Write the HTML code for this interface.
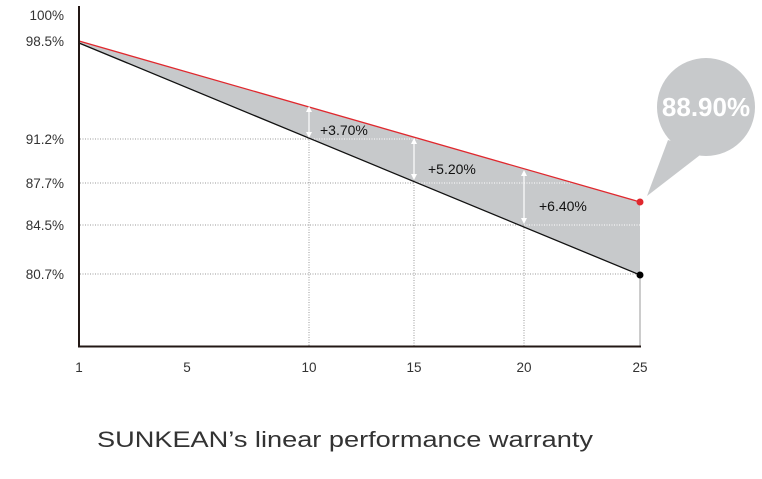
<!DOCTYPE html>
<html><head><meta charset="utf-8"><style>
body{margin:0;background:#fff;}
svg text{font-family:"Liberation Sans",sans-serif;}
</style></head><body>
<svg width="762" height="474" viewBox="0 0 762 474" xmlns="http://www.w3.org/2000/svg">
<polygon points="79,41 640,202 640,275 79,43" fill="#c7c9cb"/>
<g stroke="#999" stroke-width="1" stroke-dasharray="1,1.5" fill="none">
<line x1="80" y1="139" x2="309" y2="139"/>
<line x1="80" y1="183" x2="414" y2="183"/>
<line x1="80" y1="225" x2="524" y2="225"/>
<line x1="80" y1="274" x2="640" y2="274"/>
<line x1="309" y1="137" x2="309" y2="346"/>
<line x1="414" y1="180" x2="414" y2="346"/>
<line x1="524" y1="225" x2="524" y2="346"/>
</g>
<g stroke="#fff" stroke-width="1" stroke-dasharray="1,1.5">
<line x1="309" y1="139" x2="640" y2="139"/>
<line x1="414" y1="183" x2="640" y2="183"/>
<line x1="524" y1="225" x2="640" y2="225"/>
</g>
<line x1="640" y1="275" x2="640" y2="346" stroke="#999" stroke-width="1"/>
<line x1="79" y1="41" x2="640" y2="202" stroke="#e0282e" stroke-width="1.3"/>
<line x1="79" y1="43" x2="640" y2="275" stroke="#111" stroke-width="1.3"/>
<g stroke="#fff" stroke-width="1.2" fill="#fff">
<line x1="309" y1="109" x2="309" y2="135"/>
<polygon points="306,112 309,106 312,112" stroke="none"/>
<polygon points="306,132 309,138 312,132" stroke="none"/>
<line x1="414" y1="141" x2="414" y2="177"/>
<polygon points="411,144 414,138 417,144" stroke="none"/>
<polygon points="411,174 414,180 417,174" stroke="none"/>
<line x1="524" y1="173" x2="524" y2="221"/>
<polygon points="521,176 524,170 527,176" stroke="none"/>
<polygon points="521,218 524,224 527,218" stroke="none"/>
</g>
<circle cx="640" cy="202" r="3.5" fill="#e0282e"/>
<circle cx="640" cy="275" r="3.5" fill="#000"/>
<line x1="79" y1="6" x2="79" y2="347" stroke="#231815" stroke-width="2"/>
<line x1="78" y1="346.5" x2="641" y2="346.5" stroke="#231815" stroke-width="2"/>
<circle cx="706" cy="107" r="49" fill="#c7c9cb"/>
<polygon points="668,140 704,152 647,196" fill="#c7c9cb"/>
<text x="706" y="116" text-anchor="middle" font-size="26" font-weight="bold" fill="#fff">88.90%</text>
<g font-size="13.5" fill="#333" text-anchor="end">
<text x="64" y="20">100%</text>
<text x="64" y="46">98.5%</text>
<text x="64" y="144">91.2%</text>
<text x="64" y="188">87.7%</text>
<text x="64" y="230">84.5%</text>
<text x="64" y="279">80.7%</text>
</g>
<g font-size="13.5" fill="#333" text-anchor="middle">
<text x="79" y="372">1</text>
<text x="187" y="372">5</text>
<text x="309" y="372">10</text>
<text x="414" y="372">15</text>
<text x="524" y="372">20</text>
<text x="640" y="372">25</text>
</g>
<g font-size="14" fill="#111">
<text x="320" y="135">+3.70%</text>
<text x="428" y="174">+5.20%</text>
<text x="539" y="211">+6.40%</text>
</g>
<text x="97" y="447" font-size="22" fill="#333" textLength="496" lengthAdjust="spacingAndGlyphs">SUNKEAN’s linear performance warranty</text>
</svg>
</body></html>
